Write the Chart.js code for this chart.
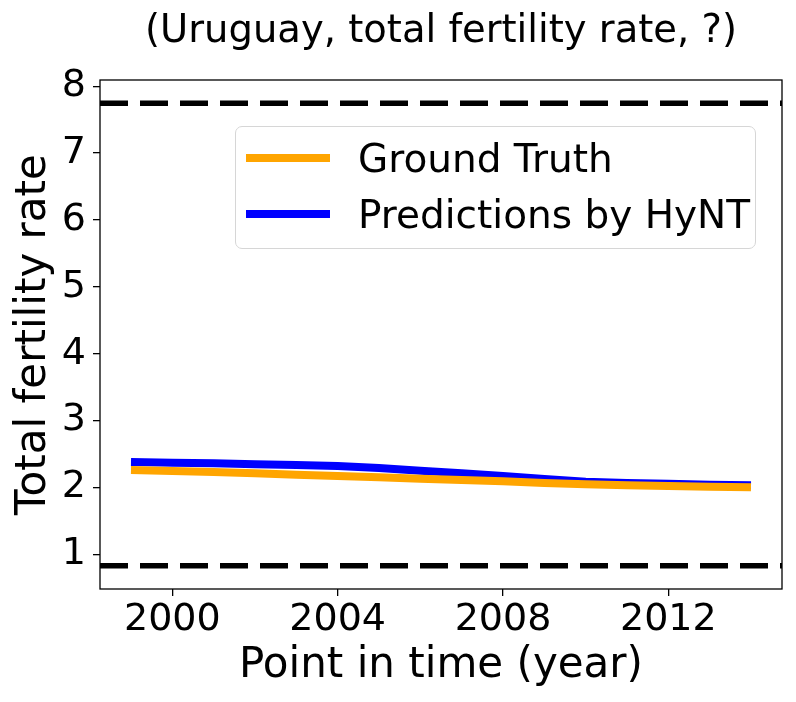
<!DOCTYPE html>
<html>
<head>
<meta charset="utf-8">
<script src="https://cdn.jsdelivr.net/npm/chart.js@4.4.0/dist/chart.umd.min.js"></script>
<style>
  html, body { margin: 0; padding: 0; background: #fff; }
  #wrap { position: relative; width: 796px; height: 702px; }
  #legend {
    position: absolute; left: 235px; top: 126px; width: 519px; height: 121px;
    border: 1.5px solid #d6d6d6; border-radius: 7px; background: rgba(255,255,255,0.8);
    font-family: 'DejaVu Sans', sans-serif; font-size: 39px; color: #000;
  }
  .row { position: absolute; left: 0; height: 50px; display: flex; align-items: center; }
  .swatch { width: 84px; height: 8px; margin-left: 10px; margin-right: 28px; }
</style>
</head>
<body>
<div id="wrap">
  <canvas id="chart" width="796" height="702"></canvas>
  <div id="legend"></div>
</div>
<script>
// dados
const YEARS = [1999, 2000, 2001, 2002, 2003, 2004, 2005, 2006, 2007, 2008, 2009, 2010, 2011, 2012, 2013, 2014];
const GROUND_TRUTH = [2.26, 2.245, 2.23, 2.21, 2.19, 2.17, 2.15, 2.13, 2.11, 2.09, 2.065, 2.045, 2.03, 2.02, 2.01, 2.0];
const PREDICTIONS  = [2.38, 2.37, 2.36, 2.345, 2.335, 2.32, 2.29, 2.25, 2.21, 2.17, 2.125, 2.085, 2.065, 2.055, 2.04, 2.03];
const BOUND_UPPER = 7.747;
const BOUND_LOWER = 0.826;
const X_TICKS = [2000, 2004, 2008, 2012];
const Y_TICKS = [1, 2, 3, 4, 5, 6, 7, 8];
const X_MIN = 1998.25, X_MAX = 2014.75;
const Y_MIN = 0.48, Y_MAX = 8.093;

const COLORS = { truth: '#FFA500', pred: '#0000FF', bound: '#000000' };
const FONT = 'DejaVu Sans';

Chart.defaults.font.family = FONT;
Chart.defaults.color = '#000';
Chart.defaults.animation = false;

const frame = {
  id: 'frame',
  afterDatasetsDraw(chart) {
    const a = chart.chartArea, ctx = chart.ctx;
    ctx.save();
    ctx.strokeStyle = '#000';
    ctx.lineWidth = 1.3;
    ctx.strokeRect(a.left, a.top, a.right - a.left, a.bottom - a.top);
    ctx.restore();
  }
};

const pts = ys => YEARS.map((x, i) => ({ x, y: ys[i] }));
const hline = y => [{ x: X_MIN, y }, { x: X_MAX, y }];

const chart = new Chart(document.getElementById('chart').getContext('2d'), {
  type: 'line',
  data: {
    datasets: [
      { label: 'Ground Truth', data: pts(GROUND_TRUTH), borderColor: COLORS.truth, borderWidth: 8, pointRadius: 0, tension: 0 },
      { label: 'Predictions by HyNT', data: pts(PREDICTIONS), borderColor: COLORS.pred, borderWidth: 8, pointRadius: 0, tension: 0 },
      { label: 'upper', data: hline(BOUND_UPPER), borderColor: COLORS.bound, borderWidth: 5.5, borderDash: [28, 12], pointRadius: 0 },
      { label: 'lower', data: hline(BOUND_LOWER), borderColor: COLORS.bound, borderWidth: 5.5, borderDash: [28, 12], pointRadius: 0 },
    ]
  },
  options: {
    responsive: false,
    layout: { padding: { left: 0, right: 14, top: 0, bottom: 0 } },
    plugins: {
      legend: { display: false },
      tooltip: { enabled: false },
      title: {
        display: true,
        fullSize: false,
        text: '(Uruguay, total fertility rate, ?)',
        font: { size: 38.5, weight: 'normal' },
        color: '#000',
        padding: { top: 9, bottom: 24.8 }
      }
    },
    scales: {
      x: {
        type: 'linear', min: X_MIN, max: X_MAX,
        afterBuildTicks: s => { s.ticks = X_TICKS.map(v => ({ value: v })); },
        afterFit: s => { s.height = 113; },
        ticks: { font: { size: 38 }, color: '#000', padding: 1, maxRotation: 0, callback: v => String(v) },
        grid: { drawOnChartArea: false, drawTicks: true, tickLength: 7, color: '#000', lineWidth: 1.3 },
        border: { display: false },
        title: { display: true, text: 'Point in time (year)', font: { size: 42 }, color: '#000', padding: { top: 0, bottom: 11 } }
      },
      y: {
        type: 'linear', min: Y_MIN, max: Y_MAX,
        afterBuildTicks: s => { s.ticks = Y_TICKS.map(v => ({ value: v })); },
        afterFit: s => { s.width = 100; },
        ticks: { font: { size: 38 }, color: '#000', padding: 7, callback: v => String(v) },
        grid: { drawOnChartArea: false, drawTicks: true, tickLength: 7, color: '#000', lineWidth: 1.3 },
        border: { display: false },
        title: { display: true, text: 'Total fertility rate', font: { size: 42 }, color: '#000', padding: { top: 9, bottom: 0 } }
      }
    }
  },
  plugins: [frame]
});

// legenda dentro da área do gráfico
const leg = document.getElementById('legend');
chart.data.datasets.slice(0, 2).forEach((ds, i) => {
  const row = document.createElement('div');
  row.className = 'row';
  row.style.top = (6 + i * 56) + 'px';
  row.innerHTML = '<div class="swatch" style="background:' + ds.borderColor + '"></div><span>' + ds.label + '</span>';
  leg.appendChild(row);
});
</script>
</body>
</html>
